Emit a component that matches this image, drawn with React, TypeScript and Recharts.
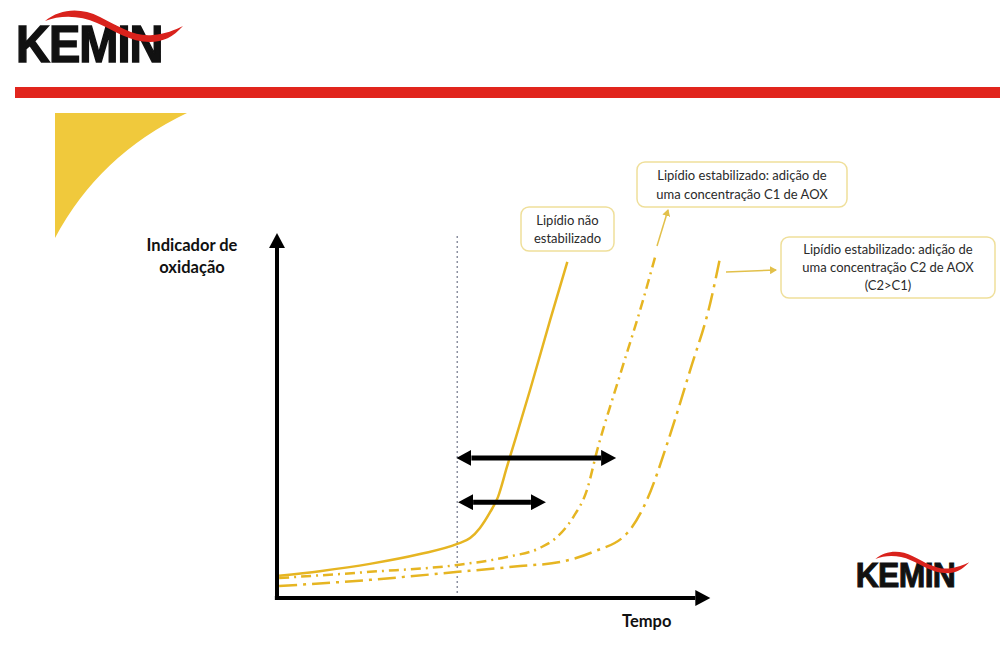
import React from 'react';
import { LineChart, Line, XAxis, YAxis, ReferenceLine } from 'recharts';

// tempo (x) / indicador de oxidação (y)
const naoEstabilizado = [
  { t: 0.5, v: 6.1 }, { t: 10, v: 7.4 }, { t: 21.7, v: 9.4 }, { t: 33.4, v: 12.1 },
  { t: 42.1, v: 14.9 }, { t: 45.1, v: 16.5 }, { t: 47.4, v: 19.3 }, { t: 49.8, v: 23.7 },
  { t: 51.6, v: 27.8 }, { t: 53.7, v: 36.1 }, { t: 55.6, v: 43.5 }, { t: 59.1, v: 57.3 },
  { t: 63.8, v: 76.6 }, { t: 67.8, v: 92.6 },
];
const estabilizadoC1 = [
  { t: 0.5, v: 5.5 }, { t: 21.7, v: 7.2 }, { t: 42.1, v: 9.1 }, { t: 53.7, v: 11.3 },
  { t: 61.4, v: 13.8 }, { t: 65.4, v: 16.8 }, { t: 69.2, v: 22.3 }, { t: 72.4, v: 29.8 },
  { t: 74.8, v: 40.8 }, { t: 80.1, v: 61.4 }, { t: 85.3, v: 81.3 }, { t: 88.3, v: 93.9 },
];
const estabilizadoC2 = [
  { t: 0.5, v: 3.3 }, { t: 21.7, v: 5.0 }, { t: 42.3, v: 7.2 }, { t: 56.8, v: 8.8 },
  { t: 66.1, v: 9.9 }, { t: 73.8, v: 12.7 }, { t: 81.8, v: 17.9 }, { t: 86.4, v: 27.0 },
  { t: 91.4, v: 43.5 }, { t: 96.5, v: 62.8 }, { t: 101.2, v: 81.3 }, { t: 103.5, v: 93.9 },
];
const inicioOxidacao = 42.1;
const setaLonga = { y: 38.6, from: 42.1, to: 79.0 };
const setaCurta = { y: 26.4, from: 42.5, to: 62.6 };

const yLabel = ['Indicador de', 'oxidação'];
const xLabel = 'Tempo';
const label1 = ['Lipídio não', 'estabilizado'];
const label2 = ['Lipídio estabilizado: adição de', 'uma concentração C1 de AOX'];
const label3 = ['Lipídio estabilizado: adição de', 'uma concentração C2 de AOX', '(C2>C1)'];

const YELLOW = '#e6b522';
const FONT = 'Lato, "Open Sans", sans-serif';
const HEAD = 3.3; // arrow head length in x units

function Logo({ x, y, s }: { x: number; y: number; s: number }) {
  return (
    <g transform={`translate(${x},${y}) scale(${s})`}>
      <text x={1} y={35} fontFamily='"Liberation Sans", Arial, sans-serif' fontWeight={700}
        fontSize={47} letterSpacing={-1} fill="#111" stroke="#111" strokeWidth={1.4}
        transform="scale(1,1.12) translate(0,-3.8)">KEMIN</text>
      <path d="M30,-6 C45,-18 65,-20 85,-10 C105,0 120,10 138,8 C150,7 160,3 168,-1 C158,10 148,15 135,15 C115,15 100,4 82,-4 C65,-12 45,-12 30,-6 Z"
        fill="#d9221c" />
    </g>
  );
}

function Box({ x, y, w, h, lines, lh }: { x: number; y: number; w: number; h: number; lines: string[]; lh: number }) {
  const top = y + h / 2 - ((lines.length - 1) * lh) / 2 + 4.5;
  return (
    <g>
      <rect x={x} y={y} width={w} height={h} rx={8} fill="#fff" stroke="#efdf9a" strokeWidth={1.5} />
      {lines.map((l, i) => (
        <text key={i} x={x + w / 2} y={top + i * lh} textAnchor="middle" fontFamily={FONT} fontSize={13} fill="#2a2a2a">{l}</text>
      ))}
    </g>
  );
}

export default function App() {
  return (
    <div style={{ position: 'absolute', left: 0, top: 0, width: 1000, height: 645, background: '#fff', overflow: 'hidden' }}>
      <svg width={1000} height={645} style={{ position: 'absolute', left: 0, top: 0 }}>
        <defs>
          <marker id="headBig" markerUnits="userSpaceOnUse" markerWidth={16} markerHeight={18} refX={0} refY={9} orient="auto-start-reverse">
            <path d="M0,1 L15,9 L0,17 Z" fill="#000" />
          </marker>
          <marker id="headMid" markerUnits="userSpaceOnUse" markerWidth={16} markerHeight={16} refX={0} refY={8} orient="auto-start-reverse">
            <path d="M0,0 L15,8 L0,16 Z" fill="#000" />
          </marker>
          <marker id="headSmall" markerUnits="userSpaceOnUse" markerWidth={8} markerHeight={8} refX={6} refY={4} orient="auto">
            <path d="M0,0 L7,4 L0,8 Z" fill="#e2c04a" />
          </marker>
        </defs>
        <Logo x={15} y={27} s={1} />
        <rect x={15} y={87} width={985} height={11} fill="#e1251d" />
        <path d="M55,113 L187,113 Q99,155 55,238 Z" fill="#f0c93c" />
        {yLabel.map((l, i) => (
          <text key={i} x={192} y={251 + i * 22} textAnchor="middle" fontFamily={FONT} fontWeight={700} fontSize={16.5} fill="#111">{l}</text>
        ))}
        <text x={622} y={627} fontFamily={FONT} fontWeight={700} fontSize={16.5} fill="#111">{xLabel}</text>
        <Box x={521} y={207} w={93} h={44} lines={label1} lh={18} />
        <Box x={637} y={162} w={210} h={45} lines={label2} lh={19} />
        <Box x={781} y={237} w={214} h={61} lines={label3} lh={18} />
        <line x1={657} y1={246} x2={668} y2={210} stroke="#e2c04a" strokeWidth={1.5} markerEnd="url(#headSmall)" />
        <line x1={726} y1={272} x2={776} y2={270} stroke="#e2c04a" strokeWidth={1.5} markerEnd="url(#headSmall)" />
        <Logo x={855} y={563} s={0.68} />
      </svg>
      <div style={{ position: 'absolute', left: 0, top: 0 }}>
        <LineChart width={1000} height={645} margin={{ top: 235, left: 277, right: 252, bottom: 47 }}>
          <XAxis type="number" dataKey="t" domain={[0, 110]} hide allowDataOverflow />
          <YAxis type="number" dataKey="v" domain={[0, 100]} hide allowDataOverflow />
          <ReferenceLine x={inicioOxidacao} stroke="#8c90a0" strokeWidth={1.5} strokeDasharray="2 3"
            segment={[{ x: inicioOxidacao, y: 0 }, { x: inicioOxidacao, y: 98.6 }]} ifOverflow="visible" />
          <Line data={naoEstabilizado} dataKey="v" type="monotone" stroke={YELLOW} strokeWidth={2.5} dot={false} isAnimationActive={false} />
          <Line data={estabilizadoC1} dataKey="v" type="monotone" stroke={YELLOW} strokeWidth={2.5} strokeDasharray="10 5 2 5" dot={false} isAnimationActive={false} />
          <Line data={estabilizadoC2} dataKey="v" type="monotone" stroke={YELLOW} strokeWidth={2.5} strokeDasharray="18 6 3 6" dot={false} isAnimationActive={false} />
          <ReferenceLine segment={[{ x: 0, y: 0 }, { x: 0, y: 96.4 }]} stroke="#000" strokeWidth={4} markerEnd="url(#headBig)" ifOverflow="visible" />
          <ReferenceLine segment={[{ x: -0.5, y: 0 }, { x: 97.7, y: 0 }]} stroke="#000" strokeWidth={4} markerEnd="url(#headBig)" ifOverflow="visible" />
          <ReferenceLine segment={[{ x: setaLonga.from + HEAD, y: setaLonga.y }, { x: setaLonga.to - HEAD, y: setaLonga.y }]}
            stroke="#000" strokeWidth={5} markerStart="url(#headMid)" markerEnd="url(#headMid)" ifOverflow="visible" />
          <ReferenceLine segment={[{ x: setaCurta.from + HEAD, y: setaCurta.y }, { x: setaCurta.to - HEAD, y: setaCurta.y }]}
            stroke="#000" strokeWidth={5} markerStart="url(#headMid)" markerEnd="url(#headMid)" ifOverflow="visible" />
        </LineChart>
      </div>
    </div>
  );
}
